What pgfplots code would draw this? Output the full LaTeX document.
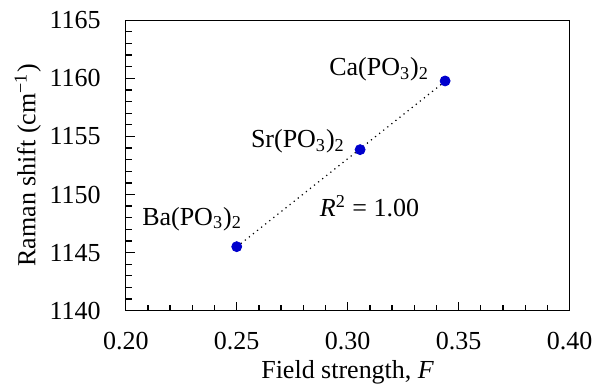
\documentclass[border=0pt]{standalone}
\usepackage{fontspec}
\setmainfont{Liberation Serif}
\usepackage{pgfplots}
\pgfplotsset{compat=1.18}
\definecolor{ptblue}{RGB}{0,0,205}
\newcommand{\fs}{\fontsize{13}{15}\selectfont}
\begin{document}
\begin{tikzpicture}
\useasboundingbox (-62.9pt,-39.2pt) rectangle (244.2pt,155.4pt);
\begin{axis}[
  scale only axis,
  width=222pt, height=145.3pt,
  xmin=0.20, xmax=0.40, ymin=1140, ymax=1165,
  xtick={0.20,0.25,...,0.40},
  ytick={1140,1145,...,1165},
  minor x tick num=4,
  minor y tick num=4,
  tick align=inside,
  major tick length=4.5pt,
  minor tick length=3pt,
  xtick pos=bottom, ytick pos=left,
  axis line style={line width=0.65pt},
  every tick/.style={black, line width=0.65pt},
  /pgf/number format/assume math mode=true,
  xticklabel={\pgfmathprintnumber[fixed,fixed zerofill,precision=2]{\tick}},
  yticklabel={\pgfmathprintnumber[fixed,precision=0,1000 sep={}]{\tick}},
  tick label style={font=\fs},
  xticklabel style={yshift=-7pt},
  yticklabel style={xshift=-9pt},
  label style={font=\fs},
  xlabel={Field strength, \textit{F}},
  ylabel={Raman shift (cm\textsuperscript{\textminus1})},
  xlabel style={at={(axis description cs:0.5,0)}, anchor=center, yshift=-31pt},
  ylabel style={at={([xshift=-49pt]axis description cs:0,0.5)}, anchor=center},
  clip=false,
]
\addplot[black, dotted, line width=0.6pt, forget plot] coordinates {(0.25,1145.49) (0.3439,1159.74)};
\addplot[only marks, mark=*, mark size=2.5pt, color=ptblue, mark options={fill=ptblue, draw=ptblue}] coordinates {
  (0.250,1145.51)
  (0.3056,1153.86)
  (0.3439,1159.77)
};
\node[anchor=base east, inner sep=0pt, font=\fs] at (axis cs:0.3368,1160.2) {Ca(PO\textsubscript{3})\textsubscript{2}};
\node[anchor=base east, inner sep=0pt, font=\fs] at (axis cs:0.2989,1154.06) {Sr(PO\textsubscript{3})\textsubscript{2}};
\node[anchor=base east, inner sep=0pt, font=\fs] at (axis cs:0.2525,1147.37) {Ba(PO\textsubscript{3})\textsubscript{2}};
\node[anchor=base west, inner sep=0pt, font=\fs] at (axis cs:0.2873,1148.09) {\textit{R}\textsuperscript{2} = 1.00};
\end{axis}
\end{tikzpicture}
\end{document}
